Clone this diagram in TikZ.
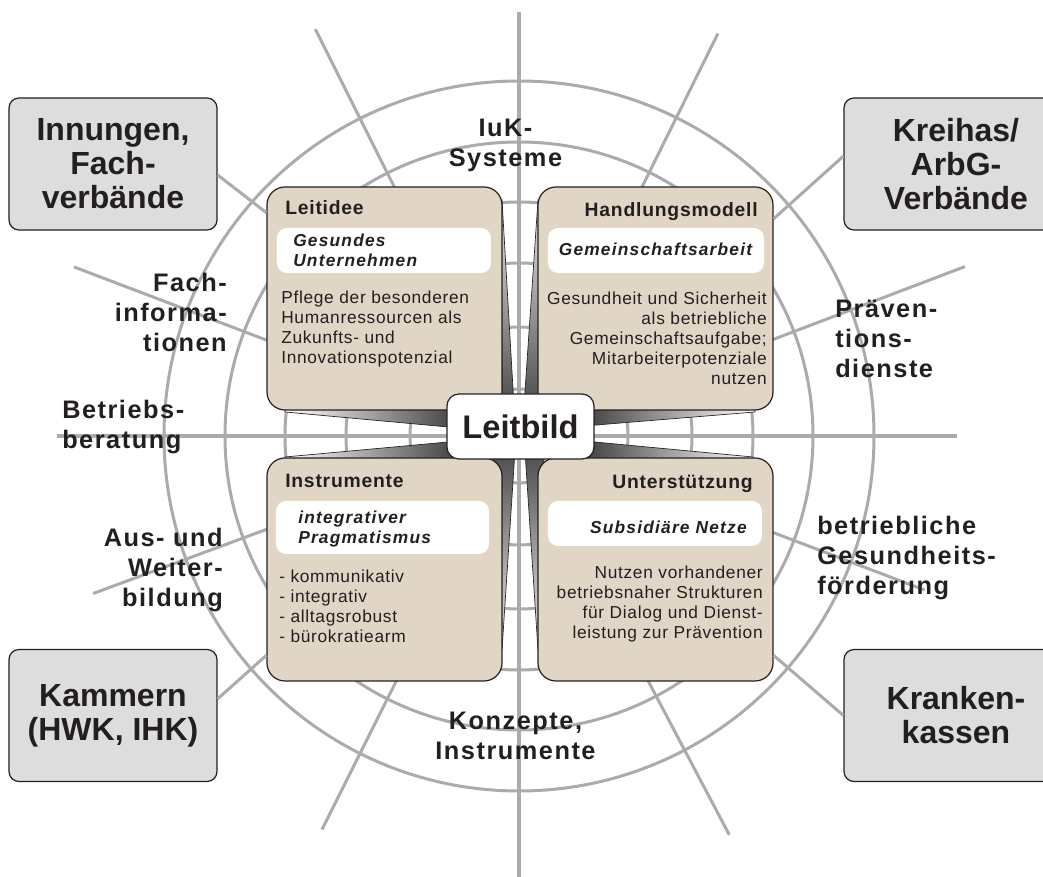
\documentclass[tikz,border=0pt]{standalone}
\usepackage{fontspec}
\setmainfont{Liberation Sans}
\newfontfamily\labelfont[LetterSpace=6]{Liberation Sans}
\newfontfamily\bodyfont[LetterSpace=4]{Liberation Sans}
\newfontfamily\tagfont[LetterSpace=7]{Liberation Sans}

\definecolor{linegray}{RGB}{171,171,171}
\definecolor{beige}{RGB}{225,214,198}
\definecolor{boxgray}{RGB}{221,221,221}
\definecolor{ink}{RGB}{35,31,32}

\tikzset{
  ring/.style={draw=linegray, line width=2.25pt},
  spoke/.style={draw=linegray, line width=2.25pt},
  axis/.style={draw=linegray, line width=3pt},
  wedge/.style={draw=ink, line width=0.5pt},
  quadrant/.style={draw=ink, fill=beige, line width=0.9pt, rounded corners=13.5pt,
    minimum width=176.25pt, minimum height=167.25pt, inner sep=0pt},
  tagbox/.style={fill=white, rounded corners=7.5pt, inner sep=0pt},
  head/.style={font=\bodyfont\bfseries\fontsize{14.5}{17}\selectfont, text=ink, inner sep=0pt},
  tag/.style={font=\tagfont\bfseries\itshape\fontsize{13}{15.5}\selectfont, text=ink, inner sep=0pt},
  body/.style={font=\bodyfont\fontsize{13}{15}\selectfont, text=ink, inner sep=0pt},
  sector/.style={font=\labelfont\bfseries\fontsize{19}{22.5}\selectfont, text=ink, inner sep=0pt},
  partner/.style={draw=ink, fill=boxgray, line width=0.9pt, rounded corners=7.5pt,
    minimum height=99pt, align=center, text=ink, font=\bfseries\fontsize{24}{25.5}\selectfont},
  hubnode/.style={draw=ink, fill=white, line width=0.9pt, rounded corners=9pt,
    minimum width=110.25pt, minimum height=48.75pt, text=ink,
    font=\bfseries\fontsize{24.5}{26}\selectfont}
}

\begin{document}
\begin{tikzpicture}[x=0.75pt,y=0.75pt]
  \useasboundingbox (-519,-441) rectangle (524,436);
  \coordinate (hub) at (0,0);

  %%%%% wheel %%%%%
  \draw[ring] (hub) circle (47);
  \draw[ring] (hub) circle (109);
  \draw[ring] (hub) circle (173);
  \draw[ring] (hub) circle (234);
  \draw[ring] (hub) circle (294);
  \draw[ring] (hub) circle (355);

  \draw[axis] (0,424) -- (0,-441);
  \draw[axis] (-462,0) -- (438,0);

  \draw[spoke] (hub) -- (116.6:455);
  \draw[spoke] (hub) -- (63.7:449);
  \draw[spoke] (hub) -- (159.2:476);
  \draw[spoke] (hub) -- (20.8:477);
  \draw[spoke] (hub) -- (200.3:454);
  \draw[spoke] (hub) -- (-20.8:434);
  \draw[spoke] (hub) -- (243.4:440);
  \draw[spoke] (hub) -- (297.8:451);

  %%%%% wedges toward the hub %%%%%
  \draw[wedge, top color=gray!15, bottom color=black!70] (-17,236) -- (-5,30) -- (-25,30) -- (-25,236) -- cycle;
  \draw[wedge, left color=white, right color=black!75] (-234,24) -- (-60,8) -- (-60,32) -- (-234,32) -- cycle;
  \draw[wedge, top color=gray!15, bottom color=black!70] (19,236) -- (5,30) -- (25,30) -- (25,236) -- cycle;
  \draw[wedge, left color=black!75, right color=white] (236,24) -- (65,10) -- (65,32) -- (236,32) -- cycle;
  \draw[wedge, top color=black!70, bottom color=gray!15] (-17,-214) -- (-4,-15) -- (-25,-15) -- (-25,-214) -- cycle;
  \draw[wedge, left color=white, right color=black!75] (-234,-21) -- (-60,-5) -- (-60,-30) -- (-234,-30) -- cycle;
  \draw[wedge, top color=black!70, bottom color=gray!15] (19,-214) -- (6,-15) -- (25,-15) -- (25,-214) -- cycle;
  \draw[wedge, left color=black!75, right color=white] (234,-21) -- (65,-5) -- (65,-30) -- (234,-30) -- cycle;

  %%%%% quadrants %%%%%
  \node[quadrant] (leitidee) at (-134.5,137.5) {};
  \node[quadrant] (handlung) at (136.5,137.5) {};
  \node[quadrant] (instrumente) at (-134.5,-133.5) {};
  \node[quadrant] (unterstuetzung) at (136.5,-133.5) {};

  \node[tagbox, minimum width=160.5pt, minimum height=33.75pt] (leitideetag) at (-135,185.5) {};
  \node[tagbox, minimum width=162pt, minimum height=33.75pt] (handlungtag) at (137,185.5) {};
  \node[tagbox, minimum width=159.75pt, minimum height=39.75pt] (instrumentetag) at (-136.5,-91.5) {};
  \node[tagbox, minimum width=160.5pt, minimum height=33.75pt] (unterstuetzungtag) at (136,-87.5) {};

  % multi-line nodes: base anchor sits on the last line
  \node[head, anchor=base west] (leitideehead) at (-234,221) {Leitidee};
  \node[tag, anchor=base west, align=left] (leitideetext) at (-226,169) {Gesundes\\Unternehmen};
  \node[body, anchor=base west, align=left] (leitideebody) at (-238,72)
    {Pflege der besonderen\\Humanressourcen als\\Zukunfts- und\\Innovationspotenzial};

  \node[head, anchor=base east] (handlunghead) at (239,219) {Handlungsmodell};
  \node[tag, anchor=base] (handlungtext) at (136.5,180) {Gemeinschaftsarbeit};
  \node[body, anchor=base east, align=right] (handlungbody) at (248,51)
    {Gesundheit und Sicherheit\\als betriebliche\\Gemeinschaftsaufgabe;\\Mitarbeiterpotenziale\\nutzen};

  \node[head, anchor=base west] (instrumentehead) at (-234,-52) {Instrumente};
  \node[tag, anchor=base west, align=left] (instrumentetext) at (-221,-108) {integrativer\\Pragmatismus};
  \node[body, anchor=base west, align=left] (instrumentebody) at (-240,-207)
    {- kommunikativ\\- integrativ\\- alltagsrobust\\- bürokratiearm};

  \node[head, anchor=base east] (unterstuetzunghead) at (234,-53) {Unterstützung};
  \node[tag, anchor=base east] (unterstuetzungtext) at (228,-98) {Subsidiäre Netze};
  \node[body, anchor=base east, align=right] (unterstuetzungbody) at (244,-203)
    {Nutzen vorhandener\\betriebsnaher Strukturen\\für Dialog und Dienst-\\leistung zur Prävention};

  \node[hubnode] (leitbild) at (1.5,9.5) {Leitbild};

  %%%%% partners %%%%%
  \node[partner, minimum width=156pt] (innungen) at (-406,272) {Innungen,\\Fach-\\verbände};
  \node[partner, minimum width=168pt] (kreihas) at (437,272) {Kreihas/\\ArbG-\\Verbände};
  \node[partner, minimum width=156pt] (kammern) at (-406,-279.5) {Kammern\\(HWK, IHK)};
  \node[partner, minimum width=168pt] (kassen) at (437,-279.5) {Kranken-\\kassen};

  \draw[spoke] (leitidee.144.6) -- (innungen.-6.6);
  \draw[spoke] (handlung.34.4) -- (kreihas.176.9);
  \draw[spoke] (instrumente.216.7) -- (kammern.9);
  \draw[spoke] (unterstuetzung.-36) -- (kassen.180);

  %%%%% sectors %%%%%
  \node[sector, anchor=base, align=center] (iuk) at (-13.5,269) {IuK-\\Systeme};
  \node[sector, anchor=base east, align=right] (fachinfo) at (-292,84) {Fach-\\informa-\\tionen};
  \node[sector, anchor=base west, align=left] (beratung) at (-457,-13) {Betriebs-\\beratung};
  \node[sector, anchor=base east, align=right] (bildung) at (-296,-171) {Aus- und\\Weiter-\\bildung};
  \node[sector, anchor=base, align=center] (konzepte) at (-3.5,-324) {Konzepte,\\Instrumente};
  \node[sector, anchor=base west, align=left] (praevention) at (316,58) {Präven-\\tions-\\dienste};
  \node[sector, anchor=base west, align=left] (bgf) at (298,-159) {betriebliche\\Gesundheits-\\förderung};
\end{tikzpicture}
\end{document}
